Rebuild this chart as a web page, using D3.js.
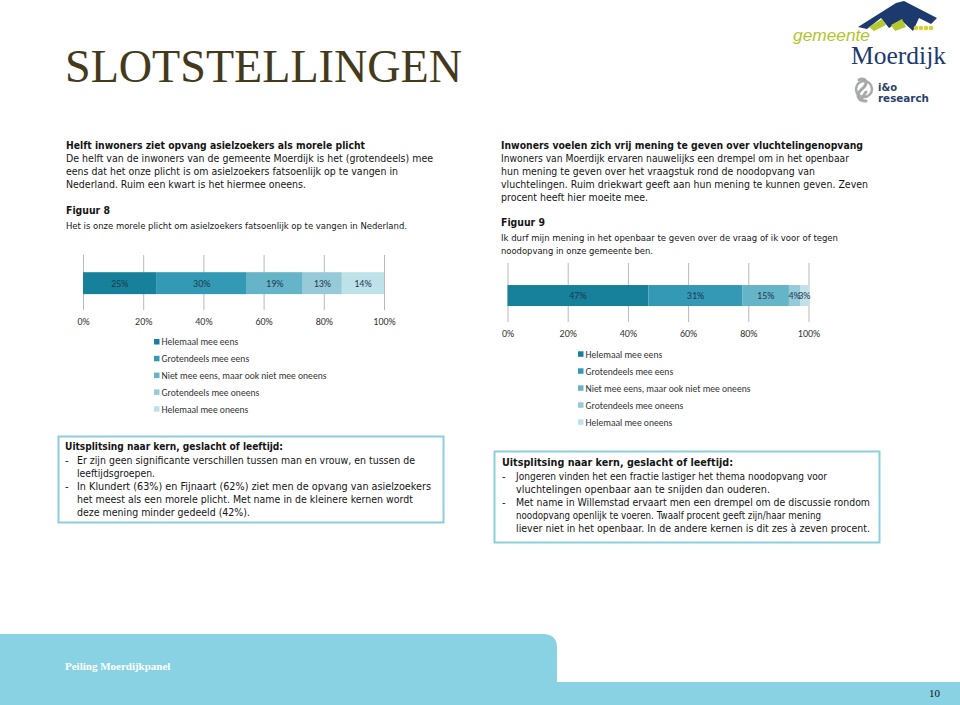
<!DOCTYPE html>
<html><head><meta charset="utf-8">
<script src="https://cdn.jsdelivr.net/npm/d3@7"></script>
<style>
html,body{margin:0;padding:0;background:#fff;}
svg{display:block;}
</style></head>
<body>
<svg id="slide" width="960" height="705"></svg>
<script>
// ---------- DATA ----------
const seriesNames = ["Helemaal mee eens","Grotendeels mee eens","Niet mee eens, maar ook niet mee oneens","Grotendeels mee oneens","Helemaal mee oneens"];
const fig8Values = [24.5, 29.9, 18.6, 13.0, 14.0];
const fig8Labels = ["25%","30%","19%","13%","14%"];
const fig9Values = [46.8, 31.3, 15.4, 3.7, 2.8];
const fig9Labels = ["47%","31%","15%","4%","3%"];
const tickValues = [0, 20, 40, 60, 80, 100];
const tickLabels = ["0%","20%","40%","60%","80%","100%"];
const seriesColors = ["#17809b","#3399b5","#66b4c8","#96cad8","#bfe1ea"];

const leftText = [
  {t:"Helft inwoners ziet opvang asielzoekers als morele plicht", b:true},
  {t:"De helft van de inwoners van de gemeente Moerdijk is het (grotendeels) mee"},
  {t:"eens dat het onze plicht is om asielzoekers fatsoenlijk op te vangen in"},
  {t:"Nederland. Ruim een kwart is het hiermee oneens."},
  {t:"Figuur 8", b:true},
  {t:"Het is onze morele plicht om asielzoekers fatsoenlijk op te vangen in Nederland.", s:true}
];
const rightText = [
  {t:"Inwoners voelen zich vrij mening te geven over vluchtelingenopvang", b:true},
  {t:"Inwoners van Moerdijk ervaren nauwelijks een drempel om in het openbaar"},
  {t:"hun mening te geven over het vraagstuk rond de noodopvang van"},
  {t:"vluchtelingen. Ruim driekwart geeft aan hun mening te kunnen geven. Zeven"},
  {t:"procent heeft hier moeite mee."},
  {t:"Figuur 9", b:true},
  {t:"Ik durf mijn mening in het openbaar te geven over de vraag of ik voor of tegen", s:true},
  {t:"noodopvang in onze gemeente ben.", s:true}
];
const leftBox = [
  {t:"Uitsplitsing naar kern, geslacht of leeftijd:", b:true},
  {t:"Er zijn geen significante verschillen tussen man en vrouw, en tussen de", d:true},
  {t:"leeftijdsgroepen.", i:true},
  {t:"In Klundert (63%) en Fijnaart (62%) ziet men de opvang van asielzoekers", d:true},
  {t:"het meest als een morele plicht. Met name in de kleinere kernen wordt", i:true},
  {t:"deze mening minder gedeeld (42%).", i:true}
];
const rightBox = [
  {t:"Uitsplitsing naar kern, geslacht of leeftijd:", b:true},
  {t:"Jongeren vinden het een fractie lastiger het thema noodopvang voor", d:true},
  {t:"vluchtelingen openbaar aan te snijden dan ouderen.", i:true},
  {t:"Met name in Willemstad ervaart men een drempel om de discussie rondom", d:true},
  {t:"noodopvang openlijk te voeren. Twaalf procent geeft zijn/haar mening", i:true},
  {t:"liever niet in het openbaar. In de andere kernen is dit zes à zeven procent.", i:true}
];

// ---------- LAYOUT ----------
const svg = d3.select("#slide");
svg.append("rect").attr("width",960).attr("height",705).attr("fill","#fff");

svg.append("text").attr("x",65).attr("y",82)
  .attr("font-family","'Liberation Serif','Times New Roman',serif")
  .attr("font-size",47).attr("fill","#45391c")
  .attr("textLength",397).attr("lengthAdjust","spacingAndGlyphs")
  .text("SLOTSTELLINGEN");

const bodyFont = "'DejaVu Sans',Verdana,sans-serif";
function para(lines, x, ys, ends, opts) {
  const g = svg.append("g").attr("font-family", bodyFont).attr("fill","#151515");
  lines.forEach((l,i)=>{
    const indent = (l.d||l.i) ? opts.indent : 0;
    if (l.d) {
      g.append("text").attr("x",x).attr("y",ys[i]).attr("font-size",opts.fs).text("-");
    }
    const t = g.append("text").attr("x",x+indent).attr("y",ys[i])
      .attr("font-size", l.s ? opts.sfs : opts.fs)
      .attr("font-weight", l.b ? "bold" : "normal")
      .text(l.t);
    if (ends && ends[i]) t.attr("textLength", ends[i]-(x+indent)).attr("lengthAdjust","spacingAndGlyphs");
  });
}
para(leftText, 66, [149,162,175,188,214,229], [365,433,398,306,110,407], {fs:10, sfs:9, indent:0});
para(rightText, 501, [149,162,175,188,201,226,241,254], [863,849,815,868,648,545,838,653], {fs:10, sfs:9, indent:0});

svg.append("rect").attr("x",58.5).attr("y",436.5).attr("width",385).attr("height",86)
  .attr("fill","#fff").attr("stroke","#8ccfdc").attr("stroke-width",2);
svg.append("rect").attr("x",494.5).attr("y",451.5).attr("width",385).attr("height",91)
  .attr("fill","#fff").attr("stroke","#8ccfdc").attr("stroke-width",2);
para(leftBox, 65, [450,464,477,490,503,516], [283,415,155,431,413,250], {fs:10, sfs:9, indent:12});
para(rightBox, 502, [466,480,493,506,519,532], [733,827,770,870,821,870], {fs:10, sfs:9, indent:14});

// ---------- CHARTS ----------
const chartFont = "Carlito, Lato, 'Open Sans', sans-serif";
function stackedBar(cfg) {
  const x = d3.scaleLinear().domain([0,100]).range([cfg.x0, cfg.x1]);
  const y = d3.scaleBand().domain(["q"]).range([cfg.top, cfg.axisY]).padding(cfg.pad).align(cfg.align);
  const g = svg.append("g");
  const axis = d3.axisBottom(x).tickValues(tickValues)
    .tickFormat((d,i)=>tickLabels[i])
    .tickSize(-(cfg.axisY - cfg.top)).tickPadding(8);
  const ag = g.append("g").attr("transform",`translate(0,${cfg.axisY})`).call(axis);
  ag.select(".domain").remove();
  ag.selectAll(".tick line").attr("stroke","#b9b9b9").attr("stroke-width",1);
  ag.selectAll(".tick text").attr("font-family",chartFont).attr("font-size",10).attr("fill","#333");
  let cum = 0;
  const segs = cfg.values.map((v,i)=>{const s={i, a:cum, b:cum+v, label:cfg.labels[i]}; cum+=v; return s;});
  g.selectAll("rect.seg").data(segs).join("rect").attr("class","seg")
    .attr("x",d=>x(d.a)).attr("width",d=>x(d.b)-x(d.a))
    .attr("y",y("q")).attr("height",y.bandwidth())
    .attr("fill",d=>seriesColors[d.i]);
  g.selectAll("text.lab").data(segs).join("text").attr("class","lab")
    .attr("x",d=>(x(d.a)+x(d.b))/2).attr("y",y("q")+y.bandwidth()/2+3.5)
    .attr("text-anchor","middle").attr("font-family",chartFont).attr("font-size",10)
    .attr("fill","#1e3a52").text(d=>d.label);
  const lg = g.append("g").attr("font-family",chartFont).attr("font-size",9.6).attr("fill","#333");
  seriesNames.forEach((n,i)=>{
    const cy = cfg.legY + i*cfg.legStep;
    lg.append("rect").attr("x",cfg.legX).attr("y",cy-3).attr("width",5.5).attr("height",5.5).attr("fill",seriesColors[i]);
    lg.append("text").attr("x",cfg.legX+7.5).attr("y",cy+3.3).text(n);
  });
}
stackedBar({x0:83, x1:384, top:255, axisY:310, pad:0.43, align:0.52, values:fig8Values, labels:fig8Labels, legX:154, legY:342, legStep:16.8});
stackedBar({x0:507.5, x1:808.5, top:263, axisY:322, pad:0.475, align:0.58, values:fig9Values, labels:fig9Labels, legX:578, legY:354.3, legStep:17});

// ---------- FOOTER ----------
svg.append("path")
  .attr("d","M0,634 L543,634 Q557,634 557,648 L557,682 L960,682 L960,705 L0,705 Z")
  .attr("fill","#89d2e3");
svg.append("text").attr("x",65).attr("y",670)
  .attr("font-family","'Liberation Serif','DejaVu Serif',serif").attr("font-size",11).attr("font-weight","bold")
  .attr("fill","#fff").text("Peiling Moerdijkpanel");
svg.append("text").attr("x",929).attr("y",697)
  .attr("font-family","'Liberation Serif','DejaVu Serif',serif").attr("font-size",11)
  .attr("fill","#111").text("10");

// ---------- LOGO ----------
const logo = svg.append("g");
logo.append("path").attr("d","M858,27 L896,3 L904,1 L937,18 L931,24 L919,18 L913,31 L901,20 L889,28 L881,18 L867,29 Z").attr("fill","#1d3a6e");
logo.append("path").attr("d","M869,27 L882,19 L886,25 L874,31 Z").attr("fill","#b6c82f");
logo.append("path").attr("d","M891,25 L902,19 L906,27 L895,31 Z").attr("fill","#b6c82f");
[916,921,926,931].forEach(cx=>logo.append("circle").attr("cx",cx).attr("cy",28).attr("r",2.3).attr("fill","#d8d22e"));
logo.append("text").attr("x",793).attr("y",41)
  .attr("font-family","'Liberation Sans','DejaVu Sans',sans-serif").attr("font-style","italic")
  .attr("font-size",17).attr("fill","#b3c52c").attr("textLength",77).attr("lengthAdjust","spacingAndGlyphs").text("gemeente");
logo.append("text").attr("x",851).attr("y",64)
  .attr("font-family","'Liberation Serif','DejaVu Serif',serif")
  .attr("font-size",25).attr("fill","#1d3a6e").attr("textLength",95).attr("lengthAdjust","spacingAndGlyphs").text("Moerdijk");
logo.append("path").attr("d","M866,101 C858,101 856,95 860,91 C864,87 866,86 866,83 C866,79 862,78 859,80 M862,98 C864,96 864,94 866,92")
  .attr("fill","none").attr("stroke","#a7a9ac").attr("stroke-width",3).attr("stroke-linecap","round");
logo.append("circle").attr("cx",864).attr("cy",89).attr("r",8).attr("fill","none").attr("stroke","#a7a9ac").attr("stroke-width",2.5);
logo.append("text").attr("x",878).attr("y",91)
  .attr("font-family","'DejaVu Sans',sans-serif").attr("font-weight","bold")
  .attr("font-size",10).attr("fill","#2b3f6b").text("i&o");
logo.append("text").attr("x",878).attr("y",102)
  .attr("font-family","'DejaVu Sans',sans-serif").attr("font-weight","bold")
  .attr("font-size",11).attr("fill","#2b3f6b").attr("textLength",51).attr("lengthAdjust","spacingAndGlyphs").text("research");
</script>
</body></html>
